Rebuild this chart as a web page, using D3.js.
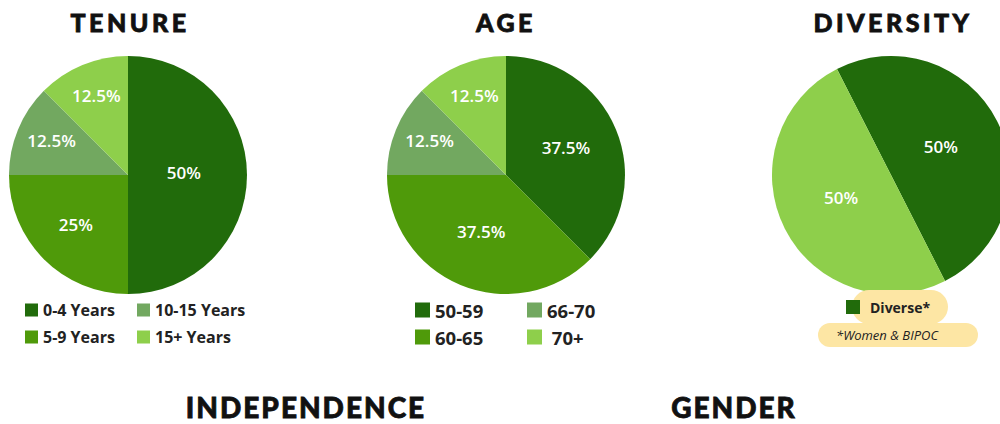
<!DOCTYPE html>
<html>
<head>
<meta charset="utf-8">
<script src="https://cdn.jsdelivr.net/npm/d3@7"></script>
<style>
  body { margin: 0; background: #fff; }
  .title { font-family: "Lato", "DejaVu Sans", sans-serif; font-weight: 900; font-size: 25px; letter-spacing: 3.5px; fill: #111; stroke: #111; stroke-width: 0.8px; }
  .title.big { font-size: 28px; letter-spacing: 2px; }
  .lbl { font-family: "Open Sans", "Noto Sans", sans-serif; font-weight: 600; font-size: 17px; fill: #fff; }
  .leg { font-family: "Open Sans", "Noto Sans", sans-serif; font-weight: 700; fill: #222; white-space: pre; }
</style>
</head>
<body>
<script>
var tenureCats = ['0-4 Years', '5-9 Years', '10-15 Years', '15+ Years'];
var tenureVals = [50, 25, 12.5, 12.5];

var ageCats = ['50-59', '60-65', '66-70', ' 70+'];
var ageVals = [37.5, 37.5, 12.5, 12.5];

var divCats = ['Diverse*', 'Other'];
var divVals = [50, 50];
var divNote = '*Women & BIPOC';

var titles = ['TENURE', 'AGE', 'DIVERSITY', 'INDEPENDENCE', 'GENDER'];

var colors4 = ['#216b0b', '#4f9a0a', '#72a860', '#8ecf4b'];
var colors2 = ['#216b0b', '#8ecf4b'];

var svg = d3.select("body").append("svg")
			.attr("width", 1000)
			.attr("height", 424);

var r = 119;

function drawPie(cx, cy, cats, vals, colors, start) {
	var pie = d3.pie().sort(null)
				.startAngle(start)
				.endAngle(start + 2*Math.PI);
	var arc = d3.arc().innerRadius(0).outerRadius(r);
	var g = svg.append("g").attr("transform", "translate(" + cx + "," + cy + ")");
	var arcs = pie(vals);
	g.selectAll("path")
		.data(arcs)
		.enter().append("path")
			.attr("d", arc)
			.attr("fill", function(d,i){ return colors[i]; });
	// smaller slices get their label pushed further out, like excel's best fit
	g.selectAll("text")
		.data(arcs)
		.enter().append("text")
			.attr("class", "lbl")
			.attr("text-anchor", "middle")
			.attr("dominant-baseline", "central")
			.attr("transform", function(d){
				var frac = d.value / d3.sum(vals);
				var lr = r * (0.47 + 0.6*(0.5 - frac));
				var c = d3.arc().innerRadius(lr).outerRadius(lr).centroid(d);
				return "translate(" + c[0] + "," + (c[1] - 3) + ")";
			})
			.text(function(d){ return d.value + "%"; });
}

drawPie(128, 175, tenureCats, tenureVals, colors4, 0);
drawPie(506, 175, ageCats, ageVals, colors4, 0);
drawPie(891, 175, divCats, divVals, colors2, -27*Math.PI/180);

// titles (letter-spacing leaves a trailing gap, so nudge x right a bit)
var titleX = [130, 506, 893, 306, 734];
var titleY = [22, 22, 22, 407, 407];
svg.selectAll("text.title")
	.data(titles)
	.enter().append("text")
		.attr("class", function(d,i){ return i > 2 ? "title big" : "title"; })
		.attr("text-anchor", "middle")
		.attr("dominant-baseline", "central")
		.attr("x", function(d,i){ return titleX[i]; })
		.attr("y", function(d,i){ return titleY[i]; })
		.text(function(d){ return d; });

// 2x2 legends
function legend(x0, x1, cats, colors, box, fs) {
	var g = svg.append("g");
	var pos = [[x0, 310], [x0, 337], [x1, 310], [x1, 337]];
	cats.forEach(function(c, i){
		g.append("rect")
			.attr("x", pos[i][0])
			.attr("y", pos[i][1] - box/2)
			.attr("width", box)
			.attr("height", box)
			.attr("fill", colors[i]);
		g.append("text")
			.attr("class", "leg")
			.attr("x", pos[i][0] + box + 5)
			.attr("y", pos[i][1])
			.attr("dominant-baseline", "central")
			.style("font-size", fs + "px")
			.text(c);
	});
}
legend(25, 137, tenureCats, colors4, 13, 16);
legend(415, 527, ageCats, colors4, 15, 18.5);

// diversity legend with highlight pills
svg.append("rect")
	.attr("x", 852).attr("y", 290)
	.attr("width", 96).attr("height", 34)
	.attr("rx", 17)
	.attr("fill", "#fde6a4");
svg.append("rect")
	.attr("x", 818).attr("y", 323)
	.attr("width", 160).attr("height", 24)
	.attr("rx", 12)
	.attr("fill", "#fde6a4");
svg.append("rect")
	.attr("x", 846).attr("y", 300)
	.attr("width", 14).attr("height", 14)
	.attr("fill", colors2[0]);
svg.append("text")
	.attr("class", "leg")
	.attr("x", 870).attr("y", 307)
	.attr("dominant-baseline", "central")
	.style("font-size", "14px")
	.text(divCats[0]);
svg.append("text")
	.attr("x", 836).attr("y", 335)
	.attr("dominant-baseline", "central")
	.attr("font-family", "Open Sans, sans-serif")
	.attr("font-style", "italic")
	.attr("font-size", 13)
	.attr("fill", "#222")
	.text(divNote);
</script>
</body>
</html>
